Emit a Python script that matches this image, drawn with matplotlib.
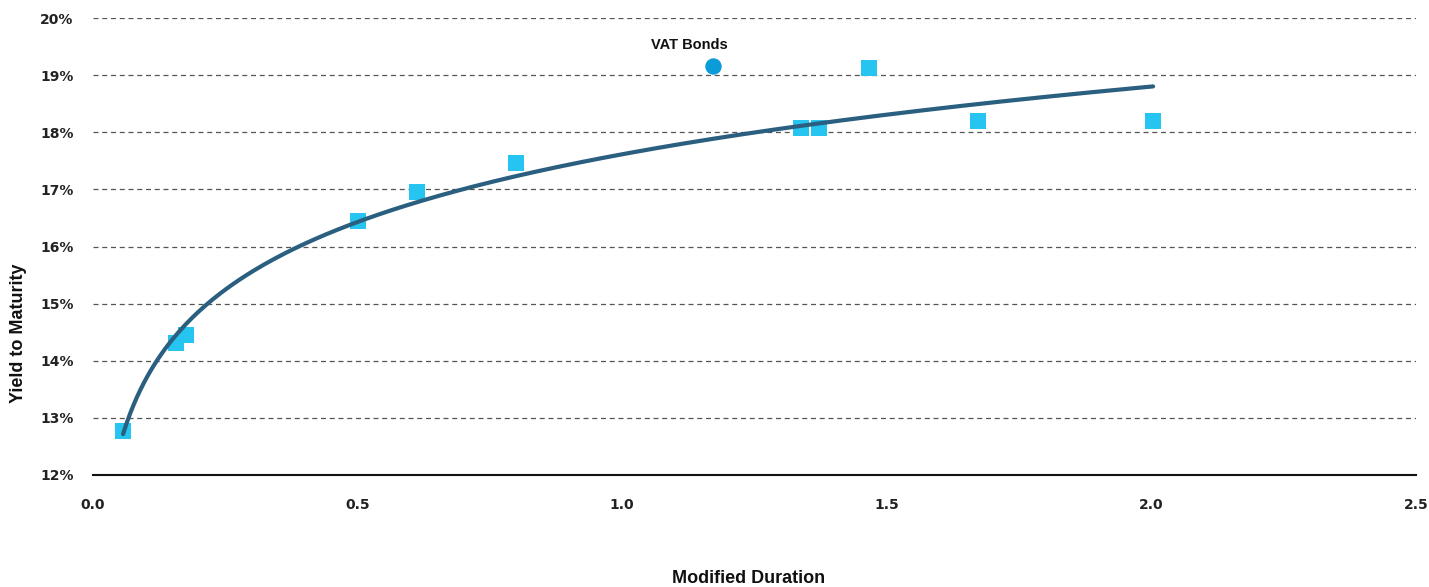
import numpy as np
import matplotlib
matplotlib.use("Agg")
import matplotlib.pyplot as plt
from matplotlib.ticker import FuncFormatter

# Data
duration = [0.057, 0.157, 0.176, 0.500, 0.613, 0.800, 1.337, 1.371, 1.466, 1.672, 2.003]
ytm = [12.77, 14.31, 14.45, 16.45, 16.96, 17.46, 18.08, 18.08, 19.13, 18.20, 18.20]
vat_duration = [1.171]
vat_ytm = [19.16]
vat_label = "VAT Bonds"
x_ticks = [0.0, 0.5, 1.0, 1.5, 2.0, 2.5]
y_ticks = [12, 13, 14, 15, 16, 17, 18, 19, 20]

LABEL_FONT = ["Liberation Sans", "DejaVu Sans"]
TICK_FONT = ["DejaVu Sans"]

fig = plt.figure(figsize=(14.29, 5.87), dpi=100)
ax = fig.add_axes([0.065, 0.191, 0.926, 0.778])

# log trendline fitted to bond data
b, a = np.polyfit(np.log(duration), ytm, 1)
xs = np.linspace(min(duration), max(duration), 300)
ax.plot(xs, a + b * np.log(xs), color="#2A5F80", lw=3, zorder=3, solid_capstyle="round")

ax.scatter(duration, ytm, marker="s", s=125, color="#26C4F0", zorder=2, linewidths=0)
ax.scatter(vat_duration, vat_ytm, marker="o", s=140, color="#0A9BD8", zorder=4, linewidths=0)
ax.annotate(vat_label, (vat_duration[0], vat_ytm[0]), xytext=(-17, 10), textcoords="offset points",
            ha="center", va="bottom", fontsize=10.5, fontweight="bold", color="#111111",
            family=LABEL_FONT)

ax.set_xlim(0, 2.5)
ax.set_ylim(12, 20)
ax.set_xticks(x_ticks)
ax.set_yticks(y_ticks)
ax.xaxis.set_major_formatter(FuncFormatter(lambda v, p: f"{v:.1f}"))
ax.yaxis.set_major_formatter(FuncFormatter(lambda v, p: f"{v:.0f}%"))
ax.tick_params(length=0, labelsize=10)
ax.tick_params(axis="x", pad=17)
ax.tick_params(axis="y", pad=14)
for lab in ax.get_xticklabels() + ax.get_yticklabels():
    lab.set_fontweight("bold")
    lab.set_family(TICK_FONT)
    lab.set_color("#222222")

ax.grid(axis="y", linestyle=(0, (4, 3)), color="#555555", lw=0.9)
ax.set_axisbelow(True)
for s in ["top", "right", "left"]:
    ax.spines[s].set_visible(False)
ax.spines["bottom"].set_color("#111111")
ax.spines["bottom"].set_linewidth(1.5)
ax.spines["bottom"].set_zorder(1)

fig.text(0.524, 0.015, "Modified Duration", fontsize=13, fontweight="bold",
         family=LABEL_FONT, color="#111111", ha="center", va="center")
fig.text(0.0126, 0.433, "Yield to Maturity", fontsize=13, fontweight="bold", rotation=90,
         family=LABEL_FONT, color="#111111", ha="center", va="center")

fig.savefig("out.png", dpi=100)
